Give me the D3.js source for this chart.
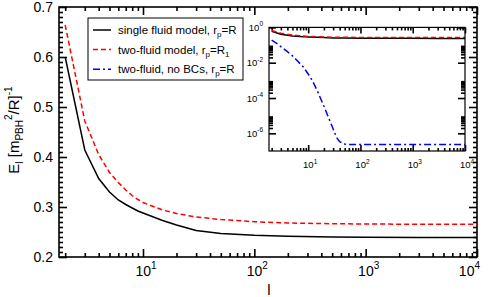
<!DOCTYPE html>
<html>
<head>
<meta charset="utf-8">
<script src="https://cdn.jsdelivr.net/npm/d3@7"></script>
<style>
  body { margin: 0; background: #fff; }
  svg { display: block; font-family: "Liberation Sans", Arial, sans-serif; }
</style>
</head>
<body>
<script>
// ---- data ----
var lVals = [2, 3, 4, 5, 6, 7, 8, 9, 10, 15, 20, 30, 50, 100, 200, 500, 1000, 3000, 10000];
var singleFluid = [0.600, 0.414, 0.357, 0.330, 0.314, 0.305, 0.298, 0.292, 0.288, 0.273, 0.264, 0.253, 0.247, 0.2435, 0.2415, 0.240, 0.2394, 0.239, 0.2388];
var twoFluid = [0.664, 0.472, 0.405, 0.369, 0.349, 0.334, 0.323, 0.315, 0.309, 0.294, 0.287, 0.280, 0.275, 0.2705, 0.268, 0.2665, 0.266, 0.2655, 0.2653];
var lNoBC = [2, 2.5, 3, 4, 5, 6, 7, 8, 10, 12, 15, 20, 25, 30, 35, 40, 50, 60, 100, 1000, 10000];
var twoFluidNoBC = [0.19, 0.126, 0.082, 0.042, 0.0245, 0.0141, 0.0089, 0.006, 2.3e-3, 9.8e-4, 2.5e-4, 3.4e-5, 6.7e-6, 1.8e-6, 5.8e-7, 3.4e-7, 2.5e-7, 2.35e-7, 2.3e-7, 2.3e-7, 2.3e-7];

var xMajor = [10, 100, 1000, 10000];
var yMajor = [0.2, 0.3, 0.4, 0.5, 0.6, 0.7];
var insetYMajor = [1, 1e-2, 1e-4, 1e-6];

var series = [
  {name: "single fluid model, r", sub: "p", tail: "=R", l: lVals, v: singleFluid, color: "#000", dash: null},
  {name: "two-fluid model, r", sub: "p", tail: "=R", tail2: "1", l: lVals, v: twoFluid, color: "#ff0000", dash: "5,3"},
  {name: "two-fluid, no BCs, r", sub: "p", tail: "=R", l: lNoBC, v: twoFluidNoBC, color: "#0000ff", dash: "7,3,2,3"}
];

var W = 491, H = 297;
var svg = d3.select("body").append("svg").attr("width", W).attr("height", H);

// main plot box
var box = {left: 59, right: 477, top: 7, bottom: 257};
var x = d3.scaleLog().domain([1.76, 10000]).range([box.left, box.right]);
var y = d3.scaleLinear().domain([0.2, 0.7]).range([box.bottom, box.top]);

function minorLog(dom) {
  var out = [];
  for (var e = -8; e <= 4; e++) {
    for (var m = 2; m <= 9; m++) {
      var v = m * Math.pow(10, e);
      if (v >= dom[0] && v <= dom[1]) out.push(v);
    }
  }
  return out;
}
var yMinor = d3.range(20, 71).map(function(d) { return d / 100; }).filter(function(d) { return Math.round(d * 100) % 10 != 0; });

// inward ticks via d3 axes (no domain line, no labels)
function ticks(axisFn, scale, vals, size, tr) {
  svg.append("g")
    .attr("transform", tr)
    .call(axisFn(scale).tickValues(vals).tickSize(size).tickSizeOuter(0).tickFormat(""))
    .call(function(g) {
      g.select(".domain").remove();
      g.selectAll(".tick line").attr("stroke", "#000").attr("stroke-width", 1.6);
    });
}

function frameTicks(b, sx, sy, xMaj, xMin, yMaj, yMin, lx, sx2, ly, sy2) {
  ticks(d3.axisBottom, sx, xMaj, -lx, "translate(0," + b.bottom + ")");
  ticks(d3.axisBottom, sx, xMin, -sx2, "translate(0," + b.bottom + ")");
  ticks(d3.axisTop, sx, xMaj, -lx, "translate(0," + b.top + ")");
  ticks(d3.axisTop, sx, xMin, -sx2, "translate(0," + b.top + ")");
  ticks(d3.axisLeft, sy, yMaj, -ly, "translate(" + b.left + ",0)");
  ticks(d3.axisLeft, sy, yMin, -sy2, "translate(" + b.left + ",0)");
  ticks(d3.axisRight, sy, yMaj, -ly, "translate(" + b.right + ",0)");
  ticks(d3.axisRight, sy, yMin, -sy2, "translate(" + b.right + ",0)");
}

frameTicks(box, x, y, xMajor, minorLog(x.domain()), yMajor, yMinor, 8, 4, 8, 4);

svg.append("rect")
  .attr("x", box.left).attr("y", box.top)
  .attr("width", box.right - box.left).attr("height", box.bottom - box.top)
  .attr("fill", "none").attr("stroke", "#000").attr("stroke-width", 1.6);

// main tick labels
svg.selectAll(".ylab")
  .data(yMajor)
  .enter().append("text")
  .attr("x", box.left - 6)
  .attr("y", function(d) { return y(d); })
  .attr("dy", "0.36em")
  .attr("text-anchor", "end")
  .attr("font-size", 14)
  .text(function(d) { return d3.format(".1f")(d); });

xMajor.forEach(function(d, i) {
  var last = i == xMajor.length - 1;
  var t = svg.append("text")
    .attr("x", x(d) + 3)
    .attr("y", 276)
    .attr("text-anchor", last ? "end" : "middle")
    .attr("font-size", 14);
  t.append("tspan").text("10");
  t.append("tspan").attr("font-size", 10).attr("dy", -7).text(Math.round(Math.log10(d)));
});

// axis titles
var yt = svg.append("text")
  .attr("transform", "translate(19,130) rotate(-90)")
  .attr("text-anchor", "middle")
  .attr("font-size", 15);
yt.append("tspan").text("E");
yt.append("tspan").attr("font-size", 10).attr("dy", 4).text("l");
yt.append("tspan").attr("dy", -4).text(" [m");
yt.append("tspan").attr("font-size", 10).attr("dy", 4).text("PBH");
yt.append("tspan").attr("font-size", 10).attr("dy", -11).text("2");
yt.append("tspan").attr("dy", 7).text("/R]");
yt.append("tspan").attr("font-size", 10).attr("dy", -7).text("-1");

svg.append("text")
  .attr("x", 269).attr("y", 295)
  .attr("text-anchor", "middle")
  .attr("font-size", 15)
  .text("l");

// curves in main plot (first two series)
var line = d3.line()
  .x(function(d) { return x(d[0]); })
  .y(function(d) { return y(d[1]); });

series.slice(0, 2).forEach(function(s) {
  svg.append("path")
    .datum(d3.zip(s.l, s.v))
    .attr("d", line)
    .attr("fill", "none")
    .attr("stroke", s.color)
    .attr("stroke-width", 1.5)
    .attr("stroke-dasharray", s.dash);
});

// legend
var leg = {x: 88, y: 18, w: 155, h: 62};
svg.append("rect")
  .attr("x", leg.x).attr("y", leg.y).attr("width", leg.w).attr("height", leg.h)
  .attr("fill", "#fff").attr("stroke", "#000").attr("stroke-width", 1);

series.forEach(function(s, i) {
  var ly = 30 + i * 19.6;
  svg.append("line")
    .attr("x1", 93).attr("x2", 111).attr("y1", ly).attr("y2", ly)
    .attr("stroke", s.color).attr("stroke-width", 1.5)
    .attr("stroke-dasharray", s.dash);
  var t = svg.append("text")
    .attr("x", 118).attr("y", ly + 4)
    .attr("font-size", 11.5);
  t.append("tspan").text(s.name);
  t.append("tspan").attr("font-size", 8).attr("dy", 3).text(s.sub);
  t.append("tspan").attr("dy", -3).text(s.tail);
  if (s.tail2) t.append("tspan").attr("font-size", 8).attr("dy", 3).text(s.tail2);
});

// ---- inset ----
var ib = {left: 269, right: 465, top: 27.4, bottom: 151};
var xi = d3.scaleLog().domain([1.78, 10000]).range([ib.left, ib.right]);
var yi = d3.scaleLog().domain([1e-7, 1]).range([ib.bottom, ib.top]);

svg.append("rect")
  .attr("x", ib.left).attr("y", ib.top)
  .attr("width", ib.right - ib.left).attr("height", ib.bottom - ib.top)
  .attr("fill", "#fff");

var yiMinor = [];
insetYMajor.forEach(function(d) {
  if (d < 1) for (var m = 2; m <= 9; m++) yiMinor.push(m * d);
});

frameTicks(ib, xi, yi, xMajor, minorLog(xi.domain()), insetYMajor, yiMinor, 6, 3, 7, 4);

var lineI = d3.line()
  .x(function(d) { return xi(d[0]); })
  .y(function(d) { return yi(d[1]); });

series.forEach(function(s) {
  svg.append("path")
    .datum(d3.zip(s.l, s.v))
    .attr("d", lineI)
    .attr("fill", "none")
    .attr("stroke", s.color)
    .attr("stroke-width", 1.5)
    .attr("stroke-dasharray", s.dash);
});

svg.append("rect")
  .attr("x", ib.left).attr("y", ib.top)
  .attr("width", ib.right - ib.left).attr("height", ib.bottom - ib.top)
  .attr("fill", "none").attr("stroke", "#000").attr("stroke-width", 1.2);

insetYMajor.forEach(function(d) {
  var t = svg.append("text")
    .attr("x", ib.left - 6).attr("y", yi(d) + 3.5)
    .attr("text-anchor", "end")
    .attr("font-size", 9.5);
  t.append("tspan").text("10");
  t.append("tspan").attr("font-size", 6.5).attr("dy", -4.5).text(Math.round(Math.log10(d)));
});

xMajor.forEach(function(d) {
  var t = svg.append("text")
    .attr("x", xi(d) + 2).attr("y", 168)
    .attr("text-anchor", "middle")
    .attr("font-size", 9.5);
  t.append("tspan").text("10");
  t.append("tspan").attr("font-size", 6.5).attr("dy", -4.5).text(Math.round(Math.log10(d)));
});
</script>
</body>
</html>
